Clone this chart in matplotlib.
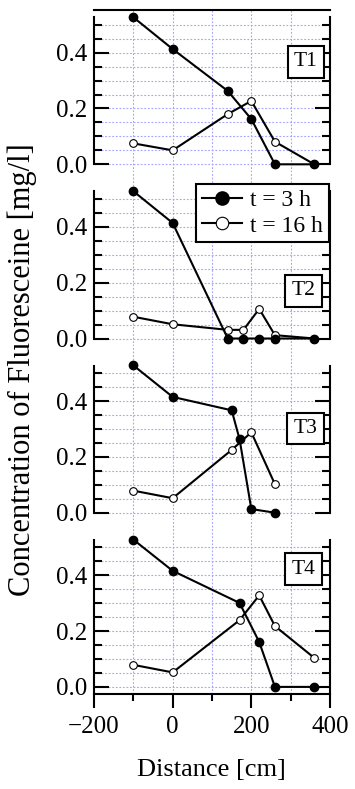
import matplotlib
matplotlib.use("Agg")
import matplotlib.pyplot as plt
from matplotlib.ticker import FixedLocator
from matplotlib.lines import Line2D

# ---------------- data ----------------
panel_names = ["T1", "T2", "T3", "T4"]

x_3h_t1 = [-100, 0, 140, 200, 260, 360]
y_3h_t1 = [0.527, 0.413, 0.263, 0.162, 0.0, 0.0]
x_16h_t1 = [-100, 0, 140, 200, 260, 360]
y_16h_t1 = [0.075, 0.050, 0.180, 0.227, 0.081, 0.0]

x_3h_t2 = [-100, 0, 140, 180, 220, 260, 360]
y_3h_t2 = [0.528, 0.414, 0.0, 0.0, 0.0, 0.0, 0.0]
x_16h_t2 = [-100, 0, 140, 180, 220, 260, 360]
y_16h_t2 = [0.078, 0.051, 0.031, 0.031, 0.106, 0.012, 0.0]

x_3h_t3 = [-100, 0, 150, 170, 200, 260]
y_3h_t3 = [0.528, 0.415, 0.367, 0.264, 0.013, 0.0]
x_16h_t3 = [-100, 0, 150, 200, 260]
y_16h_t3 = [0.079, 0.052, 0.225, 0.288, 0.102]

x_3h_t4 = [-100, 0, 170, 220, 260, 360]
y_3h_t4 = [0.528, 0.416, 0.301, 0.161, 0.0, 0.0]
x_16h_t4 = [-100, 0, 170, 220, 260, 360]
y_16h_t4 = [0.079, 0.052, 0.239, 0.328, 0.218, 0.104]

series_3h = [(x_3h_t1, y_3h_t1), (x_3h_t2, y_3h_t2), (x_3h_t3, y_3h_t3), (x_3h_t4, y_3h_t4)]
series_16h = [(x_16h_t1, y_16h_t1), (x_16h_t2, y_16h_t2), (x_16h_t3, y_16h_t3), (x_16h_t4, y_16h_t4)]

legend_labels = ["t = 3 h", "t = 16 h"]
x_ticks_major = [-200, 0, 200, 400]
x_ticks_minor = [-100, 100, 300]
y_ticks_major = [0.0, 0.2, 0.4]
y_ticks_minor = [0.05, 0.1, 0.15, 0.25, 0.3, 0.35, 0.45, 0.5]
x_grid = [-100, 0, 100, 200, 300]
y_grid = [0.0, 0.05, 0.1, 0.15, 0.2, 0.25, 0.3, 0.35, 0.4, 0.45, 0.5]
x_label = "Distance [cm]"
y_label = "Concentration of Fluoresceine [mg/l]"

# ---------------- layout ----------------
plt.rcParams['font.family'] = ['Liberation Serif', 'DejaVu Serif']
W, H = 355, 789
fig = plt.figure(figsize=(W / 100, H / 100), dpi=100)

left_px, right_px = 94, 330
zero_px = [164.3, 338.5, 512.7, 686.9]  # pixel row of y = 0 in each panel
scale = 279.0                             # px per unit
ybot = -0.026
top_first = 9.5

grid_color = '#a4a4ff'
grid_ls = (0, (1.6, 1.6))
grid_lw = 0.8
lw = 1.5
box_centers = [(306, 62), (303.5, 291), (305.5, 428.5), (303.5, 569)]

prev_bottom = top_first
for i in range(4):
    bot_px = zero_px[i] - ybot * scale
    top_px = prev_bottom
    ytop = (zero_px[i] - top_px) / scale
    ax = fig.add_axes([left_px / W, 1 - bot_px / H, (right_px - left_px) / W, (bot_px - top_px) / H])
    prev_bottom = bot_px
    ax.set_xlim(-200, 400)
    ax.set_ylim(ybot, ytop)
    ax.patch.set_visible(False)

    ax.xaxis.set_major_locator(FixedLocator(x_ticks_major))
    ax.xaxis.set_minor_locator(FixedLocator(x_ticks_minor))
    ax.yaxis.set_major_locator(FixedLocator(y_ticks_major))
    ax.yaxis.set_minor_locator(FixedLocator(y_ticks_minor))
    ax.yaxis.set_major_formatter(plt.FuncFormatter(lambda v, p: f"{v:.1f}"))

    # grid lines
    for gx in x_grid:
        ax.axvline(gx, color=grid_color, ls=grid_ls, lw=grid_lw, zorder=0)
    for gy in y_grid:
        ax.axhline(gy, color=grid_color, ls=grid_ls, lw=grid_lw, zorder=0)

    for s in ax.spines.values():
        s.set_linewidth(lw)
    ax.spines['top'].set_visible(i == 0)
    ax.spines['bottom'].set_visible(i == 3)
    spine_low = ybot if i == 3 else 0.0
    ax.spines['left'].set_bounds(spine_low, 0.527)
    ax.spines['right'].set_bounds(spine_low, 0.527)

    ax.tick_params(axis='y', which='major', direction='in', length=11, width=lw,
                   left=True, right=True, labelsize=18, pad=5)
    ax.tick_params(axis='y', which='minor', direction='in', length=6, width=lw,
                   left=True, right=True)
    if i == 3:
        ax.tick_params(axis='x', which='major', direction='out', length=10, width=lw,
                       labelsize=18, pad=6)
        ax.tick_params(axis='x', which='minor', direction='out', length=5, width=lw)
    else:
        ax.tick_params(axis='x', which='both', length=0, labelbottom=False)

    xo, yo = series_16h[i]
    ax.plot(xo, yo, '-', color='black', lw=lw, marker='o', ms=5.5,
            mfc='white', mec='black', mew=0.8, clip_on=False, zorder=3)
    xf, yf = series_3h[i]
    ax.plot(xf, yf, '-', color='black', lw=lw, marker='o', ms=6,
            mfc='black', mec='black', clip_on=False, zorder=4)

    cx, cy = box_centers[i]
    fig.text(cx / W, 1 - cy / H, panel_names[i], ha='center', va='center', fontsize=15.5,
             bbox=dict(boxstyle='square,pad=0.3', fc='white', ec='black', lw=1.5))

handles = [Line2D([], [], color='black', lw=lw, marker='o', ms=9.5, mfc='black', mec='black'),
           Line2D([], [], color='black', lw=lw, marker='o', ms=9, mfc='white', mec='black', mew=0.8)]
leg = fig.legend(handles, legend_labels, loc='upper left',
                 bbox_to_anchor=(196 / W, 1 - 184 / H), fontsize=17, frameon=True,
                 fancybox=False, edgecolor='black', framealpha=1, handlelength=1.7,
                 handletextpad=0.35, borderpad=0.25, labelspacing=0.15, borderaxespad=0)
leg.get_frame().set_linewidth(1.5)

fig.text(22 / W, 1 - 370 / H, y_label, rotation=90, ha='center', va='center', fontsize=22)
fig.text(211.5 / W, 1 - 770 / H, x_label, ha='center', va='center', fontsize=19)

fig.savefig("out.png", dpi=100)
